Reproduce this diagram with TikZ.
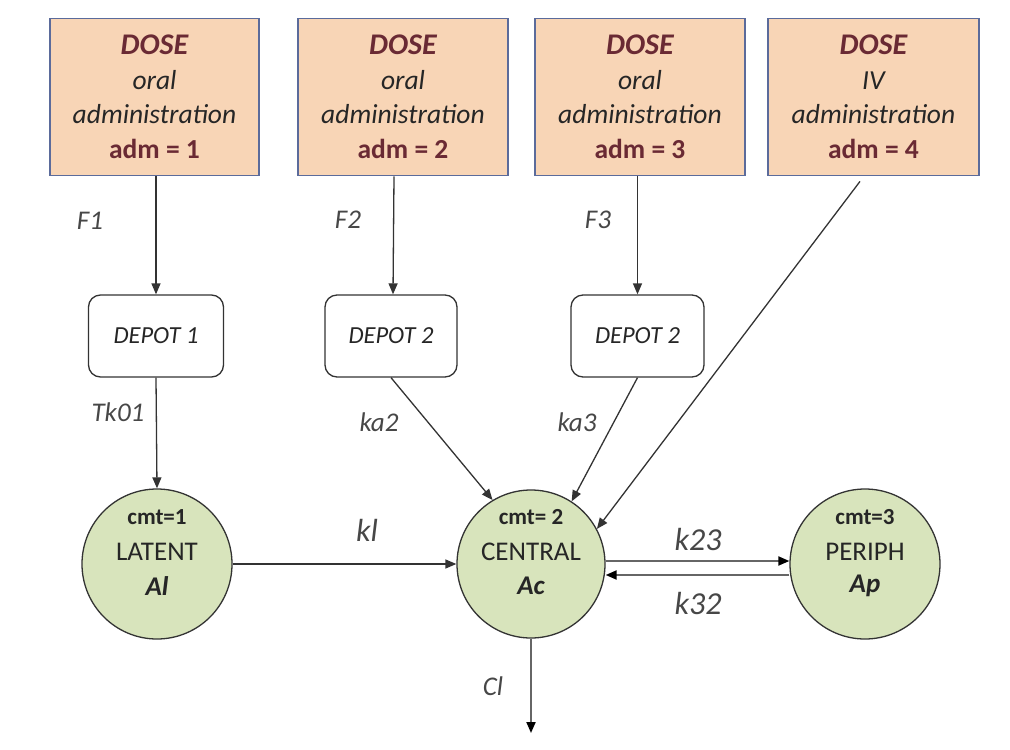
\documentclass[tikz,border=0pt]{standalone}
\usepackage{fontspec}
\setmainfont{Carlito}
\usetikzlibrary{arrows.meta}
\definecolor{dosefill}{HTML}{F8D5B6}
\definecolor{doseborder}{HTML}{5B6B9B}
\definecolor{dosered}{HTML}{6A2A34}
\definecolor{cmtfill}{HTML}{D8E4BC}
\definecolor{linegray}{HTML}{333333}
\definecolor{textgray}{HTML}{262626}
\begin{document}
\begin{tikzpicture}[x=1pt,y=-1pt,
  every node/.style={text=textgray},
  dosebox/.style={draw=doseborder, line width=1.8pt, fill=dosefill, minimum height=157pt, align=center, inner sep=0pt, font=\fontsize{27.5}{34.5}\selectfont},
  dosetitle/.style={},
  depotbox/.style={draw=linegray, line width=1.3pt, fill=white, rounded corners=12pt, minimum height=82pt, inner sep=0pt, font=\fontsize{24.5}{28}\selectfont\itshape},
  cmt/.style={circle, draw=linegray, line width=1.3pt, fill=cmtfill, minimum size=148pt, inner sep=0pt},
  cmtnum/.style={font=\fontsize{23}{26}\selectfont\bfseries},
  cmtname/.style={font=\fontsize{27}{30}\selectfont},
  cmtvar/.style={font=\fontsize{27}{30}\selectfont\bfseries\itshape},
  lab/.style={font=\fontsize{27}{30}\selectfont\itshape, text=textgray!85!white},
  biglab/.style={font=\fontsize{32}{36}\selectfont\itshape, text=textgray!85!white},
  arr/.style={draw=linegray, line width=1.3pt, -{Triangle[length=11pt,width=9pt]}},
  thickarr/.style={draw=black!60, line width=2pt, -{Triangle[length=11pt,width=9pt,color=black]}}
]
\useasboundingbox (0,0) rectangle (1010,750);

% dose boxes
\node[dosebox, minimum width=209pt] (box1) at (154.5,97) {{\fontsize{30}{34.5}\selectfont\bfseries\itshape\color{dosered}DOSE}\\{\itshape oral}\\{\itshape administration}\\{\bfseries\color{dosered}adm = 1}};
\node[dosebox, minimum width=210pt] (box2) at (403,97) {{\fontsize{30}{34.5}\selectfont\bfseries\itshape\color{dosered}DOSE}\\{\itshape oral}\\{\itshape administration}\\{\bfseries\color{dosered}adm = 2}};
\node[dosebox, minimum width=210pt] (box3) at (640,97) {{\fontsize{30}{34.5}\selectfont\bfseries\itshape\color{dosered}DOSE}\\{\itshape oral}\\{\itshape administration}\\{\bfseries\color{dosered}adm = 3}};
\node[dosebox, minimum width=211pt] (box4) at (873.5,97) {{\fontsize{30}{34.5}\selectfont\bfseries\itshape\color{dosered}DOSE}\\{\itshape IV}\\{\itshape administration}\\{\bfseries\color{dosered}adm = 4}};

% depots
\node[depotbox, minimum width=135pt] (d1) at (156,336) {DEPOT 1};
\node[depotbox, minimum width=132pt] (d2) at (391,336) {DEPOT 2};
\node[depotbox, minimum width=133pt] (d3) at (637.5,336) {DEPOT 2};

% compartments
\node[cmt, minimum size=150pt] (lat) at (157,564) {};
\node[cmt] (cen) at (531,564) {};
\node[cmt, minimum size=150pt] (per) at (865,564) {};

\node[cmtnum] (latn) at (157,517) {cmt=1};
\node[cmtname] (latt) at (157,552) {LATENT};
\node[cmtvar] (latv) at (157,586) {Al};
\node[cmtnum] (cenn) at (531,517) {cmt= 2};
\node[cmtname] (cent) at (531,552) {CENTRAL};
\node[cmtvar] (cenv) at (531,586) {Ac};
\node[cmtnum] (pern) at (865,517) {cmt=3};
\node[cmtname] (pert) at (865,552) {PERIPH};
\node[cmtvar] (perv) at (865,586) {Ap};

% connectors
\draw[arr] (box1.south -| d1.north) -- (d1.north);
\draw[arr] ([xshift=3pt]box2.south -| d2.north) -- ([xshift=2pt]d2.north);
\draw[arr] (box3.south -| d3.north) -- (d3.north);
\coordinate (ivstart) at ([shift={(-13.5,5)}]box4.south);
\draw[arr] (ivstart) -- (cen.28);
\draw[arr] (d1.south) -- (lat.north);
\draw[arr] (d2.south) -- (cen.121);
\draw[arr] (d3.south) -- (cen.57);
\draw[arr] (lat.east) -- (cen.west);
\draw[thickarr] ([yshift=3pt]cen.east) -- ([yshift=3pt]per.west);
\draw[thickarr] ([yshift=-11pt]per.west) -- ([yshift=-11pt]cen.east);
\coordinate (clend) at (531,733);
\draw[thickarr] (cen.south) -- (clend);

% labels
\node[lab] (lF1) at (90,221) {F1};
\node[lab] (lF2) at (348,220) {F2};
\node[lab] (lF3) at (598,220) {F3};
\node[lab] (lTk) at (118,412) {Tk01};
\node[lab] (lka2) at (379,422) {ka2};
\node[lab] (lka3) at (577,422) {ka3};
\node[biglab] (lkl) at (367,530) {kl};
\node[biglab] (lk23) at (698,539) {k23};
\node[biglab] (lk32) at (698,603) {k32};
\node[lab] (lCl) at (493,686) {Cl};
\end{tikzpicture}
\end{document}
